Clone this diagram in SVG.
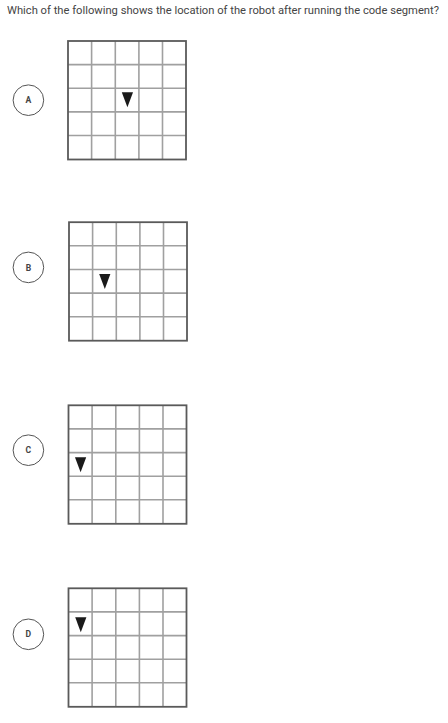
<svg xmlns="http://www.w3.org/2000/svg" width="448" height="723" viewBox="0 0 448 723">
<style>
.q{font-family:Roboto,"Liberation Sans",sans-serif;font-size:10.4px;fill:#444}
.lbl{font-family:Roboto,"Liberation Sans",sans-serif;font-size:8.6px;font-weight:bold;fill:#444;text-anchor:middle}
.circ{fill:#fff;stroke:#555;stroke-width:1}
.inner{stroke:#a0a0a0;stroke-width:1.6;fill:none}
.outer{stroke:#5a5a5a;stroke-width:1.8;fill:none}
.robot{fill:#1a1a1a}
</style>
<defs>
<g id="grid">
<path class="inner" d="M23.6 0V118.5M47.3 0V118.5M70.9 0V118.5M94.5 0V118.5M0 23.6H118M0 47.3H118M0 70.9H118M0 94.5H118"/>
<rect class="outer" x="0" y="0" width="118" height="118.5"/>
</g>
<polygon id="tri" points="6.2,4.6 17.4,4.6 11.8,19.6"/>
</defs>
<rect width="448" height="723" fill="#fff"/>
<text class="q" x="7" y="14" textLength="432" lengthAdjust="spacingAndGlyphs">Which of the following shows the location of the robot after running the code segment?</text>
<g id="optA">
<circle class="circ" cx="28.4" cy="100.2" r="15.3"/>
<text class="lbl" x="28.4" y="103.3">A</text>
<use href="#grid" x="68" y="41"/>
<use href="#tri" class="robot" x="115.6" y="87.7"/>
</g>
<g id="optB">
<circle class="circ" cx="28.4" cy="267.4" r="15.3"/>
<text class="lbl" x="28.4" y="270.5">B</text>
<use href="#grid" x="69" y="222.2"/>
<use href="#tri" class="robot" x="93" y="269.4"/>
</g>
<g id="optC">
<circle class="circ" cx="28.4" cy="450.2" r="15.3"/>
<text class="lbl" x="28.4" y="453.3">C</text>
<use href="#grid" x="68.5" y="405.3"/>
<use href="#tri" class="robot" x="68.8" y="452.7"/>
</g>
<g id="optD">
<circle class="circ" cx="28.4" cy="634.3" r="15.3"/>
<text class="lbl" x="28.4" y="637.4">D</text>
<use href="#grid" x="68.5" y="588.3"/>
<use href="#tri" class="robot" x="69" y="612.6"/>
</g>
</svg>
